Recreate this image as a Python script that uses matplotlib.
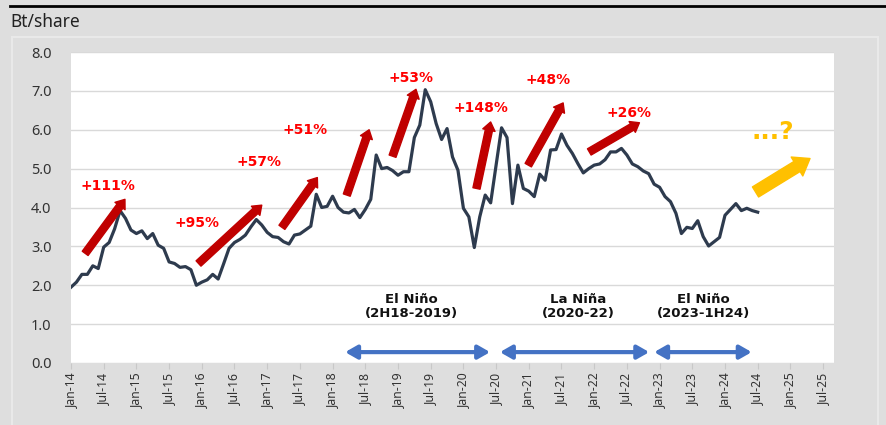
import numpy as np
import matplotlib.pyplot as plt
from matplotlib.lines import Line2D
from matplotlib.patches import Rectangle

plt.rcParams['font.family'] = ['Noto Sans', 'DejaVu Sans']
BOLD = ['DejaVu Sans']

# Données mensuelles (Bt/share), Jan-14 -> Jul-24
values = [
    1.95, 2.08, 2.28, 2.28, 2.50, 2.43, 2.98, 3.10, 3.45, 3.92, 3.72, 3.42,
    3.33, 3.40, 3.20, 3.33, 3.03, 2.95, 2.60, 2.56, 2.46, 2.48, 2.40, 2.00,
    2.08, 2.14, 2.28, 2.16, 2.55, 2.95, 3.10, 3.18, 3.29, 3.50, 3.69, 3.55,
    3.36, 3.25, 3.23, 3.12, 3.06, 3.29, 3.32, 3.42, 3.52, 4.34, 4.00, 4.03,
    4.29, 4.00, 3.88, 3.86, 3.95, 3.74, 3.95, 4.21, 5.35, 5.00, 5.03, 4.95,
    4.83, 4.92, 4.92, 5.80, 6.12, 7.03, 6.72, 6.16, 5.75, 6.03, 5.30, 4.96,
    3.98, 3.76, 2.97, 3.76, 4.32, 4.12, 5.09, 6.05, 5.80, 4.10, 5.09, 4.49,
    4.42, 4.28, 4.86, 4.70, 5.48, 5.49, 5.89, 5.60, 5.39, 5.13, 4.89, 5.00,
    5.09, 5.12, 5.23, 5.43, 5.43, 5.52, 5.35, 5.12, 5.05, 4.94, 4.87, 4.60,
    4.52, 4.28, 4.15, 3.85, 3.33, 3.49, 3.46, 3.66, 3.25, 3.01, 3.12, 3.23,
    3.80, 3.95, 4.10, 3.92, 3.98, 3.92, 3.88,
]
tick_labels = ['Jan-14', 'Jul-14', 'Jan-15', 'Jul-15', 'Jan-16', 'Jul-16',
               'Jan-17', 'Jul-17', 'Jan-18', 'Jul-18', 'Jan-19', 'Jul-19',
               'Jan-20', 'Jul-20', 'Jan-21', 'Jul-21', 'Jan-22', 'Jul-22',
               'Jan-23', 'Jul-23', 'Jan-24', 'Jul-24', 'Jan-25', 'Jul-25']

# Flèches rouges : (mois départ, valeur départ, mois arrivée, valeur arrivée)
rally_arrows = [
    (2.6, 2.82, 9.9, 4.21),
    (23.4, 2.56, 35.0, 4.06),
    (38.7, 3.49, 45.2, 4.77),
    (50.6, 4.32, 54.7, 6.00),
    (59.0, 5.32, 63.3, 7.04),
    (74.4, 4.49, 77.0, 6.20),
    (83.9, 5.09, 90.3, 6.69),
    (95.1, 5.43, 104.3, 6.18),
]
rally_labels = ['+111%', '+95%', '+57%', '+51%', '+53%', '+148%', '+48%', '+26%']
rally_label_pos = [(6.8, 4.55), (23.1, 3.59), (34.5, 5.17), (42.9, 6.0),
                   (62.3, 7.34), (75.2, 6.55), (87.6, 7.28), (102.4, 6.43)]

# Périodes climatiques
phases = ['El Niño\n(2H18-2019)', 'La Niña\n(2020-22)', 'El Niño\n(2023-1H24)']
phase_spans = [(50.3, 76.9), (78.7, 106.1), (107.0, 124.9)]
phase_label_x = [62.4, 93.0, 116.1]

x = np.arange(len(values))

fig = plt.figure(figsize=(8.87, 4.25), dpi=100)
fig.patch.set_facecolor('#DEDEDE')
fig.add_artist(Rectangle((12 / 887, -0.01), (878 - 12) / 887, 1 - 37 / 425 + 0.01,
                         transform=fig.transFigure, facecolor='none',
                         edgecolor='#E9E9E9', lw=1.5))
fig.add_artist(Line2D([10 / 887, 1], [1 - 6 / 425] * 2, color='black', lw=2))
fig.text(10 / 887, 1 - 22 / 425, 'Bt/share', fontsize=12.5, color='#222222',
         ha='left', va='center')

ax = fig.add_axes([71 / 887, 1 - 363 / 425, (834 - 71) / 887, (363 - 52) / 425])
ax.set_facecolor('white')
ax.plot(x, values, color='#2E3B4E', lw=2.3, zorder=3, solid_joinstyle='round')

ax.set_xlim(0, 140)
ax.set_ylim(0, 8)
ax.set_yticks(np.arange(0, 9, 1))
ax.set_yticklabels([f'{v:.1f}' for v in range(9)], fontsize=10.5, color='#333333')
ax.set_xticks(np.arange(0, 6 * len(tick_labels), 6))
ax.set_xticklabels(tick_labels, rotation=90, fontsize=8.8, color='#333333')
ax.tick_params(axis='y', length=0, pad=14)
ax.tick_params(axis='x', length=4, color='#C8C8C8', pad=3)
ax.grid(axis='y', color='#D9D9D9', lw=1)
ax.set_axisbelow(True)
for s in ax.spines.values():
    s.set_visible(False)

for (x0, y0, x1, y1) in rally_arrows:
    ax.annotate('', xy=(x1, y1), xytext=(x0, y0),
                arrowprops=dict(arrowstyle='simple,head_length=0.6,head_width=0.9,tail_width=0.52',
                                color='#C00000', shrinkA=0, shrinkB=0, mutation_scale=10),
                zorder=4)
for lab, (lx, ly) in zip(rally_labels, rally_label_pos):
    ax.text(lx, ly, lab, color='#FF0000', fontsize=10, fontweight='bold',
            family=BOLD, ha='center', va='center', zorder=5)

# Flèche jaune (perspective)
ax.annotate('', xy=(135.6, 5.26), xytext=(125.6, 4.4),
            arrowprops=dict(arrowstyle='simple,head_length=1.1,head_width=1.6,tail_width=0.85',
                            color='#FFC000', shrinkA=0, shrinkB=0, mutation_scale=10),
            zorder=4)
ax.text(128.8, 5.95, '...?', color='#FFC000', fontsize=18, fontweight='bold',
        family=BOLD, ha='center', va='center', zorder=5)

for (a, b), lab, lx in zip(phase_spans, phases, phase_label_x):
    ax.annotate('', xy=(b, 0.28), xytext=(a, 0.28),
                arrowprops=dict(arrowstyle='<|-|>,head_length=0.7,head_width=0.4',
                                color='#4472C4', lw=3, shrinkA=0, shrinkB=0,
                                mutation_scale=10),
                zorder=4)
    ax.text(lx, 1.45, lab, fontsize=9.5, fontweight='bold', color='#111111',
            family=BOLD, ha='center', va='center', linespacing=1.1, zorder=5)

fig.savefig('out.png', dpi=100, facecolor=fig.get_facecolor())
